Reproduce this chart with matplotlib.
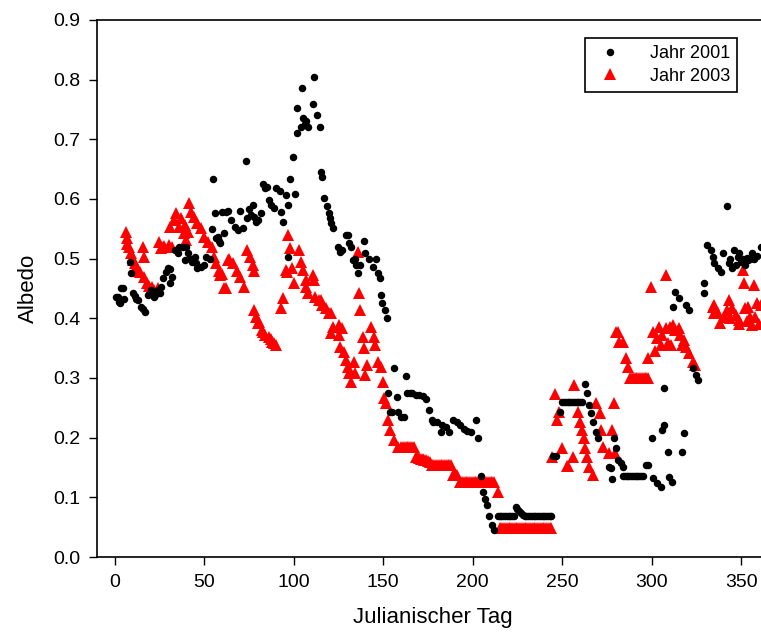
import matplotlib
matplotlib.use("Agg")
import matplotlib.pyplot as plt

plt.rcParams['font.family'] = ['Liberation Sans', 'DejaVu Sans']

# Jahr 2001 (schwarze Punkte): (Julianischer Tag, Albedo)
punkte_2001 = [
    (0.5, 0.436), (1.7, 0.436), (2.4, 0.428), (3, 0.425), (3.4, 0.45), (4.5, 0.45), (5, 0.433),
    (8.4, 0.494), (9, 0.476), (10, 0.442), (11, 0.438), (12, 0.433), (13, 0.43), (14.5, 0.419),
    (15.5, 0.415), (16.7, 0.41), (18.7, 0.439), (20, 0.447), (21, 0.445), (22, 0.436), (23, 0.44),
    (24, 0.447), (25, 0.442), (26, 0.452), (27, 0.467), (28.5, 0.477), (29.6, 0.484), (30.7, 0.459),
    (31, 0.482), (32, 0.47), (33.5, 0.514), (35, 0.509), (36, 0.52), (38, 0.52), (39, 0.497),
    (40, 0.519), (41, 0.509), (42, 0.5), (43, 0.495), (45, 0.503), (45.5, 0.492), (46, 0.484),
    (48, 0.486), (50, 0.489), (51, 0.503), (53, 0.5), (54, 0.55), (54.6, 0.633), (56, 0.576),
    (56.6, 0.534), (57.5, 0.536), (58, 0.53), (59, 0.526), (60, 0.578), (61, 0.543), (62, 0.578),
    (63, 0.58), (65, 0.564), (67, 0.553), (68.6, 0.548), (70, 0.58), (71.6, 0.551), (73, 0.663),
    (74, 0.568), (75, 0.583), (76, 0.573), (77, 0.59), (78, 0.57), (79, 0.561), (80, 0.564),
    (81.6, 0.576), (83, 0.625), (84, 0.618), (85, 0.62), (86, 0.598), (87, 0.59), (89, 0.585),
    (90, 0.618), (92, 0.613), (93, 0.578), (94, 0.561), (95.5, 0.606), (96.6, 0.503), (97, 0.59),
    (98, 0.633), (99.5, 0.67), (100.5, 0.608), (101.7, 0.71), (102, 0.752), (104, 0.72),
    (104.5, 0.786), (105, 0.735), (106, 0.725), (107, 0.73), (108, 0.72), (110.5, 0.759),
    (111, 0.804), (113, 0.74), (114.5, 0.72), (115, 0.645), (115.5, 0.637), (117, 0.601),
    (118.5, 0.588), (119.6, 0.576), (120, 0.568), (121, 0.559), (122, 0.551), (124.5, 0.519),
    (126, 0.512), (127, 0.514), (129, 0.54), (130, 0.54), (131, 0.526), (132, 0.52), (133, 0.497),
    (134, 0.5), (135, 0.489), (136, 0.476), (137, 0.489), (139, 0.53), (140, 0.51), (142, 0.5),
    (144, 0.486), (146, 0.5), (147, 0.476), (148, 0.467), (148.6, 0.439), (149.5, 0.425),
    (151, 0.414), (152, 0.40), (152.5, 0.275), (154, 0.243), (155, 0.243), (156, 0.317),
    (157.5, 0.268), (158, 0.243), (160, 0.235), (161.5, 0.234), (162.6, 0.303), (163.5, 0.275),
    (165, 0.275), (166, 0.275), (168, 0.272), (170, 0.272), (172, 0.27), (174, 0.265),
    (175.6, 0.246), (177.5, 0.23), (178, 0.226), (180, 0.226), (182, 0.21), (183, 0.222),
    (185, 0.218), (187, 0.21), (189, 0.23), (191, 0.226), (193, 0.222), (195, 0.215), (197, 0.212),
    (199, 0.21), (201.7, 0.23), (202.8, 0.2), (204.5, 0.136), (206, 0.109), (207, 0.097),
    (208, 0.087), (209, 0.069), (210.5, 0.054), (212, 0.045),
    (214, 0.069), (215, 0.069), (216, 0.069), (217, 0.069), (218, 0.069), (219, 0.069),
    (220, 0.069), (221, 0.069), (222, 0.069), (223, 0.069), (224, 0.084), (225, 0.08),
    (226, 0.077), (227, 0.073), (228, 0.07), (229, 0.069), (230, 0.069), (231, 0.069),
    (232, 0.069), (233, 0.069), (234, 0.069), (235, 0.069), (236, 0.069), (237, 0.069),
    (238, 0.069), (239, 0.069), (240, 0.069), (241, 0.069), (242, 0.069), (243, 0.069),
    (244, 0.069), (245, 0.17), (246.5, 0.169), (249, 0.243),
    (250, 0.26), (251, 0.26), (252, 0.26), (253, 0.26), (254, 0.26), (255, 0.26), (256, 0.26),
    (257, 0.26), (258, 0.26), (259, 0.26), (260, 0.26), (261, 0.26),
    (262.6, 0.29), (263.7, 0.275), (265, 0.255), (266, 0.241), (267, 0.226), (268.7, 0.21),
    (270, 0.2), (276, 0.151), (277, 0.149), (278, 0.131), (279, 0.2), (280, 0.183), (281, 0.162),
    (282.6, 0.157), (283.7, 0.151),
    (284, 0.136), (285, 0.136), (286, 0.136), (287, 0.136), (288, 0.136), (289, 0.136),
    (290, 0.136), (291, 0.136), (292, 0.136), (293, 0.136), (294, 0.136), (295, 0.136),
    (296.6, 0.154), (298, 0.154), (300, 0.2), (301, 0.132), (303, 0.124), (305, 0.117),
    (306, 0.213), (306.7, 0.221), (307, 0.283), (309, 0.176), (309.5, 0.134), (311.6, 0.126),
    (312, 0.419), (313, 0.444), (315, 0.434), (317, 0.176), (318, 0.208), (319, 0.422),
    (321, 0.414), (323, 0.317), (324.6, 0.305), (326, 0.296), (329, 0.459), (329.5, 0.442),
    (331, 0.523), (333, 0.514), (334, 0.503), (335, 0.492), (337, 0.484), (338.5, 0.477),
    (340, 0.509), (342, 0.588), (343, 0.492), (344, 0.5), (345, 0.484), (346, 0.514), (347, 0.49),
    (348, 0.503), (349, 0.51), (350, 0.494), (351, 0.5), (352, 0.49), (353, 0.501), (354, 0.497),
    (355, 0.499), (356, 0.51), (357, 0.5), (359, 0.505), (361, 0.519),
]

# Jahr 2003 (rote Dreiecke): (Julianischer Tag, Albedo)
punkte_2003 = [
    (6, 0.545), (6.5, 0.535), (7, 0.525), (8, 0.52), (9, 0.51), (10, 0.498), (11, 0.492),
    (12, 0.486), (13, 0.48), (14, 0.477), (15.6, 0.52), (16, 0.503), (16.5, 0.469), (18, 0.459),
    (19, 0.455), (21, 0.452), (22, 0.447), (24, 0.45), (24.6, 0.528), (25.5, 0.518), (26.5, 0.52),
    (27.5, 0.522), (30, 0.523), (31, 0.553), (32, 0.52), (33, 0.564), (34, 0.576), (36, 0.553),
    (37, 0.568), (38.5, 0.543), (39, 0.556), (40, 0.531), (41, 0.545), (41.5, 0.593),
    (42.5, 0.578), (44, 0.57), (46, 0.559), (48, 0.551), (50, 0.536), (52, 0.528), (54, 0.519),
    (55.5, 0.503), (56.5, 0.492), (58, 0.48), (59, 0.472), (60, 0.475), (61, 0.45), (62, 0.45),
    (63, 0.497), (64, 0.5), (66, 0.492), (68, 0.48), (70, 0.469), (72, 0.452), (74, 0.514),
    (75.5, 0.503), (77, 0.489), (77.5, 0.48), (78, 0.414), (79, 0.402), (80, 0.392),
    (80.5, 0.394), (82, 0.38), (83, 0.377), (84, 0.372), (86, 0.369), (87, 0.365), (88, 0.36),
    (89, 0.358), (90, 0.355), (93, 0.417), (94, 0.434), (95.5, 0.481), (96, 0.477), (97, 0.539),
    (98, 0.518), (99, 0.484), (100, 0.459), (103, 0.514), (104, 0.494), (105, 0.481),
    (106.7, 0.452), (107, 0.464), (108, 0.442), (110.6, 0.472), (111, 0.464), (112, 0.436),
    (114, 0.43), (115, 0.43), (116, 0.422), (118, 0.417), (119.6, 0.409), (120.6, 0.409),
    (121, 0.375), (122, 0.385), (125, 0.389), (125.5, 0.372), (126, 0.352), (127, 0.384),
    (128, 0.343), (129, 0.33), (130, 0.318), (131, 0.308), (132, 0.293), (133.5, 0.326),
    (134, 0.308), (136, 0.511), (136.5, 0.442), (137, 0.414), (138.5, 0.368), (139, 0.35),
    (140, 0.305), (141, 0.322), (143, 0.385), (145, 0.368), (145.5, 0.355), (147, 0.326),
    (148.6, 0.318), (150, 0.293), (150.6, 0.266), (151.4, 0.258), (152.5, 0.23), (154, 0.213),
    (156, 0.196), (158, 0.184),
    (160, 0.184), (161, 0.184), (162, 0.184), (163, 0.184), (164, 0.184), (165, 0.184),
    (166, 0.184), (167, 0.184), (168, 0.168), (169, 0.168), (170, 0.166), (171, 0.165),
    (172, 0.164), (173, 0.163), (174, 0.162), (175, 0.161), (176, 0.16),
    (177, 0.154), (178, 0.154), (179, 0.154), (180, 0.154), (181, 0.154), (182, 0.154),
    (183, 0.154), (184, 0.154), (185, 0.154), (186, 0.154), (187, 0.154), (188, 0.154),
    (189, 0.137), (190, 0.137), (191, 0.137),
    (193, 0.126), (194, 0.126), (195, 0.126), (196, 0.126), (197, 0.126), (198, 0.126),
    (199, 0.126), (200, 0.126), (201, 0.126), (202, 0.126), (203, 0.126), (204, 0.126),
    (205, 0.126), (206, 0.126), (207, 0.126), (208, 0.126), (209, 0.126), (210, 0.126),
    (211, 0.126), (212, 0.126), (214, 0.109),
    (215, 0.049), (216, 0.049), (217, 0.049), (218, 0.049), (219, 0.049), (220, 0.049),
    (221, 0.049), (222, 0.049), (223, 0.049), (224, 0.049), (225, 0.049), (226, 0.049),
    (227, 0.049), (228, 0.049), (229, 0.049), (230, 0.049), (231, 0.049), (232, 0.049),
    (233, 0.049), (234, 0.049), (235, 0.049), (236, 0.049), (237, 0.049), (238, 0.049),
    (239, 0.049), (240, 0.049), (241, 0.049), (242, 0.049), (243, 0.049), (244, 0.049),
    (244.5, 0.168), (245.8, 0.273), (247, 0.23), (248, 0.243), (250, 0.183), (252.5, 0.152),
    (253, 0.152), (256, 0.168), (256.6, 0.288), (258.6, 0.243), (260, 0.226), (261, 0.213),
    (262, 0.2), (263, 0.183), (264, 0.168), (265, 0.151), (267, 0.137), (268.7, 0.258),
    (271, 0.241), (271.5, 0.213), (273, 0.184), (276, 0.174), (278, 0.213), (279, 0.258),
    (279.5, 0.174), (280, 0.377), (281, 0.377), (281.6, 0.36), (283.8, 0.36), (285.5, 0.333),
    (287, 0.318), (288, 0.30), (289, 0.30), (290, 0.30), (291, 0.30), (292, 0.30), (293, 0.30),
    (294, 0.30), (295, 0.30), (296, 0.30), (297, 0.30), (297.8, 0.333), (298, 0.30),
    (299.4, 0.452), (301, 0.377), (302, 0.345), (303, 0.367), (304, 0.385), (305, 0.355),
    (306, 0.372), (307.8, 0.472), (308, 0.384), (309, 0.358), (310, 0.385), (311, 0.355),
    (312, 0.389), (313, 0.38), (315, 0.384), (316, 0.372), (317, 0.355), (318, 0.364),
    (319, 0.352), (321, 0.342), (323, 0.327), (324, 0.322), (334, 0.419), (334.6, 0.422),
    (335, 0.409), (337, 0.409), (338, 0.392), (341, 0.402), (342, 0.414), (343, 0.43),
    (344, 0.4), (345, 0.417), (347, 0.405), (348.6, 0.397), (349, 0.39), (351, 0.481),
    (351.5, 0.459), (352, 0.417), (353, 0.395), (354, 0.419), (355, 0.402), (356, 0.389),
    (357, 0.456), (358, 0.402), (359, 0.425), (360, 0.39), (361, 0.422),
]

tag_2001 = [p[0] for p in punkte_2001]
albedo_2001 = [p[1] for p in punkte_2001]
tag_2003 = [p[0] for p in punkte_2003]
albedo_2003 = [p[1] for p in punkte_2003]

fig = plt.figure(figsize=(7.61, 6.37), dpi=100)
# Achse geht rechts etwas ueber den Bildrand hinaus (wie im Original abgeschnitten)
ax = fig.add_axes([97 / 761, 80 / 637, 671 / 761, 537 / 637])

l3, = ax.plot(tag_2003, albedo_2003, linestyle='none', marker='^', color='red',
              markersize=8.5, markeredgewidth=0, label='Jahr 2003', zorder=2)
l1, = ax.plot(tag_2001, albedo_2001, linestyle='none', marker='o', color='black',
              markersize=5.4, markeredgewidth=0, label='Jahr 2001', zorder=3)

ax.set_xlim(-10, 365)
ax.set_ylim(0.0, 0.9)
ax.set_xticks(range(0, 351, 50))
ax.set_yticks([i / 10 for i in range(10)])
ax.set_yticklabels(['%.1f' % (i / 10) for i in range(10)])
ax.tick_params(direction='out', length=6, width=1, labelsize=14, pad=6)
ax.spines['right'].set_visible(False)
for s in ['left', 'bottom', 'top']:
    ax.spines[s].set_linewidth(1.2)

ax.set_xlabel('Julianischer Tag', fontsize=16, labelpad=12)
ax.set_ylabel('Albedo', fontsize=16, labelpad=10)

leg = ax.legend(handles=[l1, l3], loc='upper right',
                bbox_to_anchor=(737 / 761, 1 - 38 / 637), bbox_transform=fig.transFigure,
                borderaxespad=0, fancybox=False, framealpha=1, edgecolor='black',
                fontsize=13, handletextpad=1.2, borderpad=0.4, labelspacing=0.3)
leg.get_frame().set_linewidth(1.2)

fig.savefig('out.png', dpi=100)
